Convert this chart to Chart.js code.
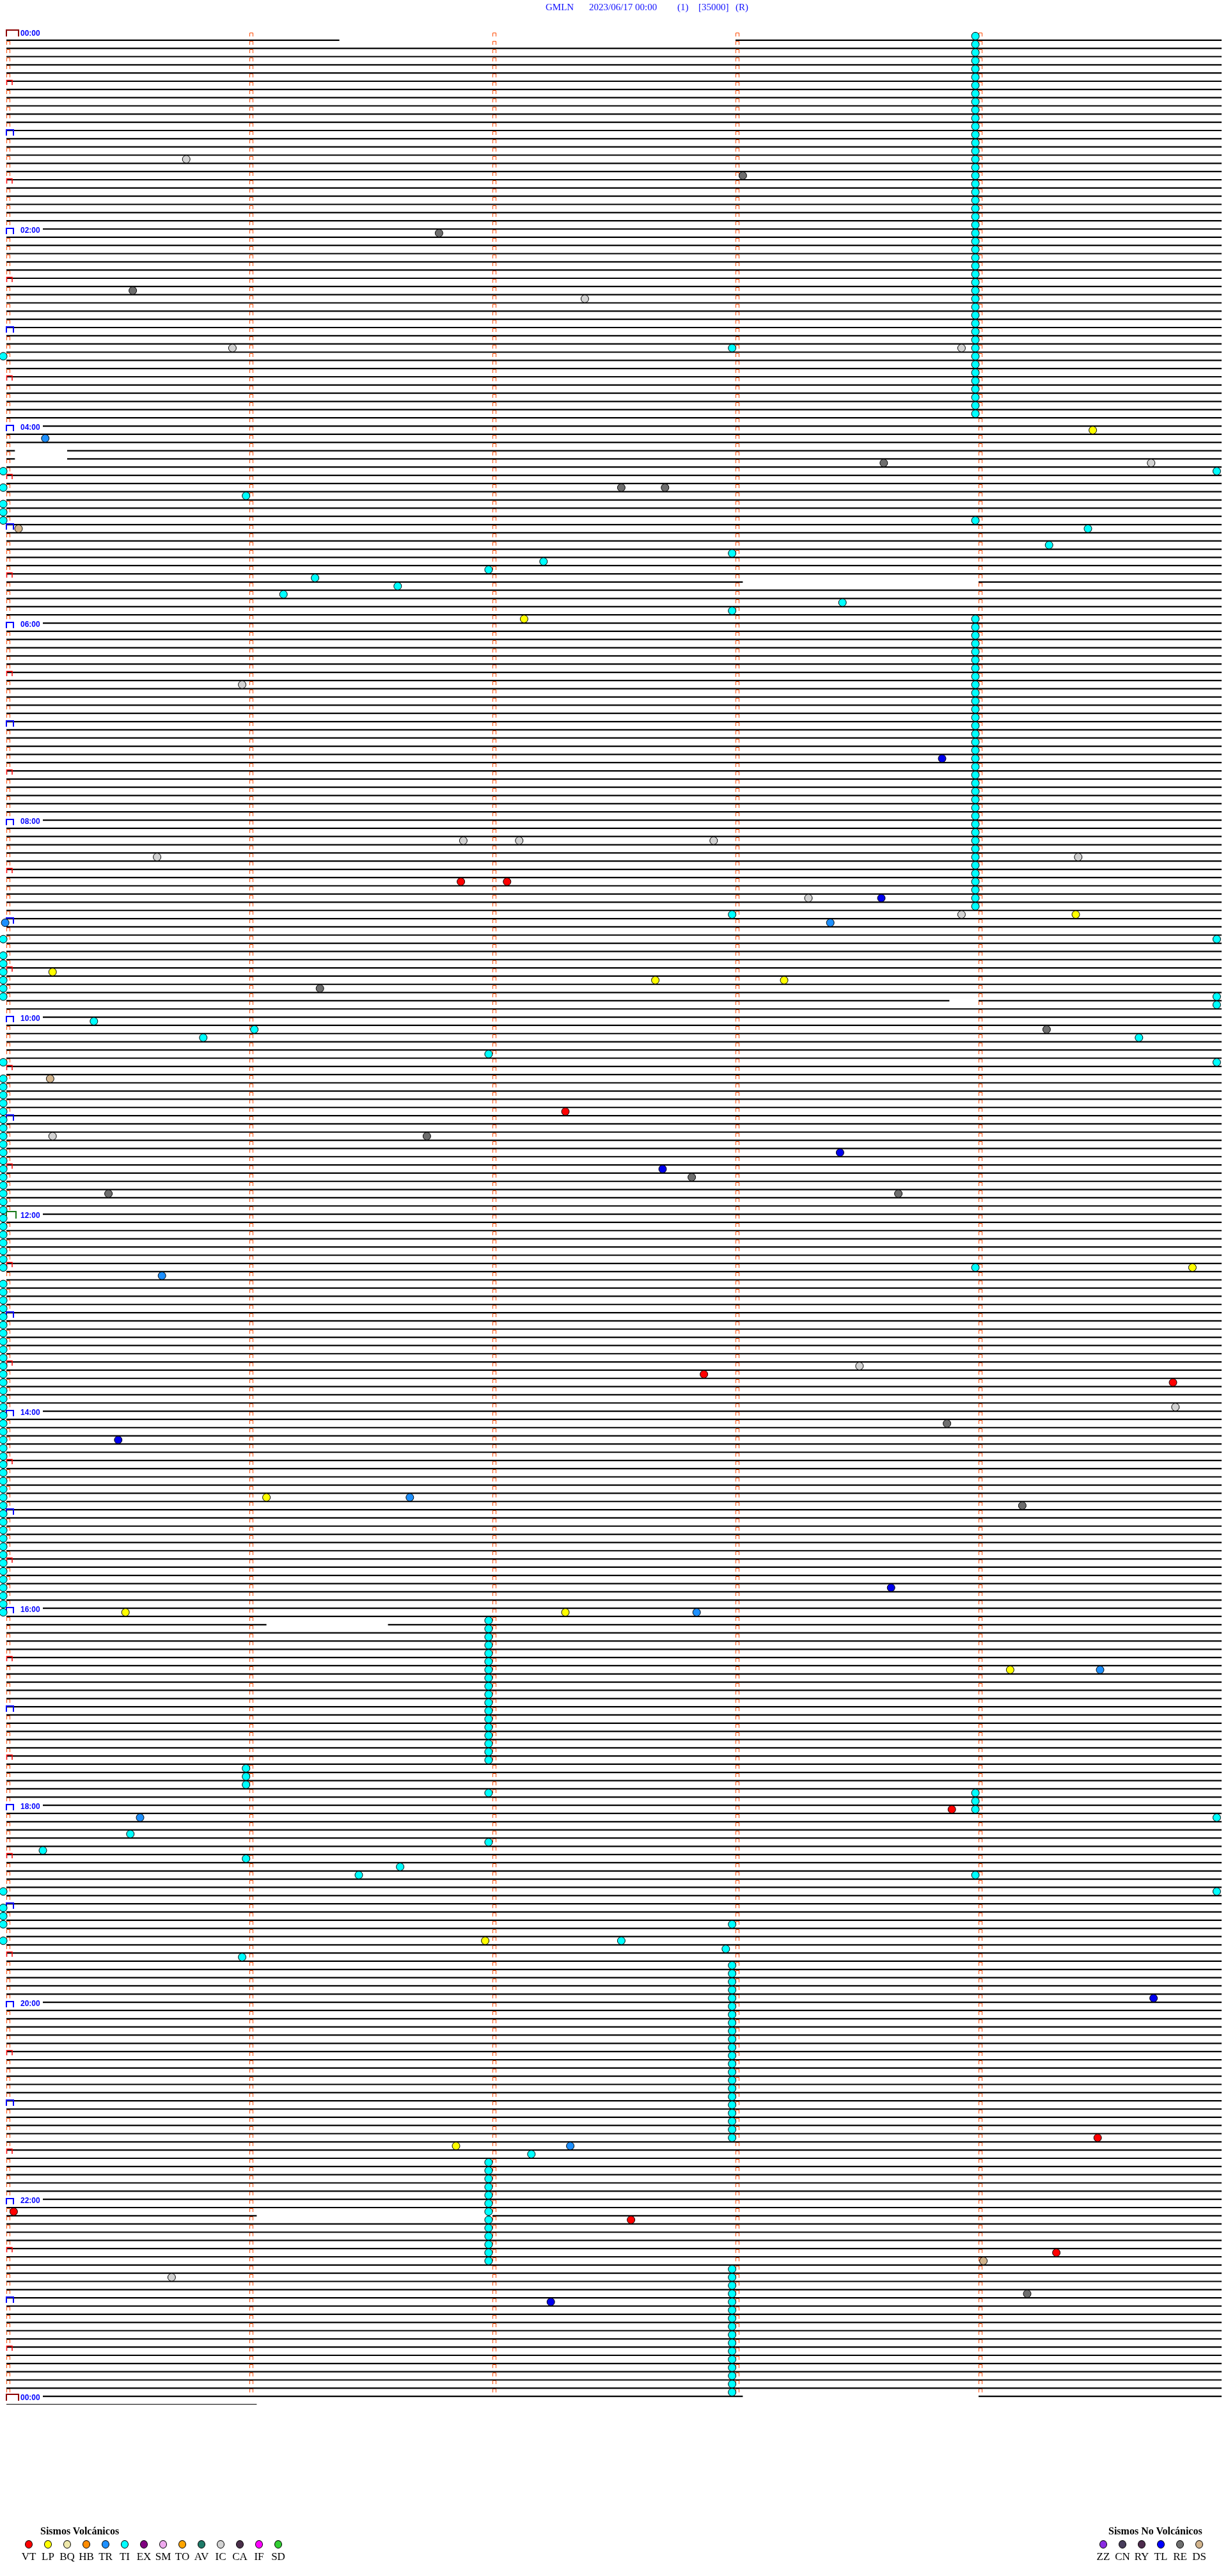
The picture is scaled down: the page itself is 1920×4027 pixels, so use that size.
<!DOCTYPE html>
<html lang="es">
<head>
<meta charset="UTF-8">
<title>GMLN 2023/06/17 00:00</title>
<script src="https://cdn.jsdelivr.net/npm/chart.js"></script>
<style>
    html, body { margin: 0; padding: 0; background: #fff; }
    body { width: 1920px; height: 4027px; position: relative; overflow: hidden; }
    #heli { position: absolute; left: 0; top: 0; }
    .ttl { position: absolute; top: 4px; font: 15px "Liberation Serif", "Times New Roman", serif; line-height: 1; color: #1010ff; white-space: pre; }
    .lg-title { position: absolute; top: 3949px; font: bold 16px "Liberation Serif", "Times New Roman", serif; line-height: 1; color: #000; white-space: pre; }
    .lg-dot { position: absolute; top: 3971px; width: 10px; height: 11px; border: 1px solid #000; border-radius: 50%; }
    .lg-lab { position: absolute; top: 3988px; width: 40px; text-align: center; font: 17px "Liberation Serif", "Times New Roman", serif; line-height: 1; color: #000; }
</style>
</head>
<body>
    <canvas id="heli" width="1920" height="4027"></canvas>

    <!-- Header -->
    <span class="ttl" style="left:853px">GMLN</span>
    <span class="ttl" style="left:921px">2023/06/17 00:00</span>
    <span class="ttl" style="left:1059px">(1)</span>
    <span class="ttl" style="left:1092px">[35000]</span>
    <span class="ttl" style="left:1150px">(R)</span>

    <!-- Legends -->
    <div class="lg-title" style="left:63px">Sismos Volcánicos</div>
    <div class="lg-title" style="left:1733px">Sismos No Volcánicos</div>
    <div id="legendBox"></div>

<script>
    // ---- axes: one row = 5 minutes, x in minutes inside the row ----
    const MINUTE_MARKS = [0, 1, 2, 3, 4];
    const LAST_ROW = 289;
    const HOUR_ROWS = [0, 24, 48, 72, 96, 120, 144, 168, 192, 216, 240, 264, 288];
    const HOUR_LABELS = ['00:00', '02:00', '04:00', '06:00', '08:00', '10:00', '12:00',
                         '14:00', '16:00', '18:00', '20:00', '22:00', '00:00'];

    // rows where the trace is missing: [row, fromMinute, toMinute]
    const traceGaps = [
        [1, 1.37, 3.0], [51, 0.035, 0.25], [52, 0.035, 0.25], [67, 3.03, 4.0], [118, 3.88, 4.0],
        [194, 1.07, 1.57], [266, 1.03, 2.0], [288, 3.03, 4.0], [289, 1.03, 5]
    ];

    // ---- legend ----
    const volcCodes = ['VT', 'LP', 'BQ', 'HB', 'TR', 'TI', 'EX', 'SM', 'TO', 'AV', 'IC', 'CA', 'IF', 'SD'];
    const volcColors = ['#ff0000', '#ffff00', '#eee8aa', '#ff8c00', '#1e90ff', '#00ffff', '#800080',
                        '#eeaaee', '#ffa500', '#1f7a68', '#d3d3d3', '#4a2f4a', '#ff00ff', '#32cd32'];
    const noVolcCodes = ['ZZ', 'CN', 'RY', 'TL', 'RE', 'DS'];
    const noVolcColors = ['#8a2be2', '#483d5b', '#4d2b4d', '#0000ff', '#6e6e6e', '#d2b48c'];

    // ---- events: TI (cyan) in columns, [row] at a fixed minute ----
    const tiColMin4 = [0, 1, 2, 3, 4, 5, 6, 7, 8, 9, 10, 11, 12, 13, 14, 15, 16, 17, 18, 19, 20, 21, 22, 23,
        24, 25, 26, 27, 28, 29, 30, 31, 32, 33, 34, 35, 36, 37, 38, 39, 40, 41, 42, 43, 44, 45, 46, 59,
        71, 72, 73, 74, 75, 76, 77, 78, 79, 80, 81, 82, 83, 84, 85, 86, 87, 88, 89, 90, 91, 92, 93, 94,
        95, 96, 97, 98, 99, 100, 101, 102, 103, 104, 105, 106, 150, 214, 215, 216, 224];
    const tiColMin2 = [65, 124, 193, 194, 195, 196, 197, 198, 199, 200, 201, 202, 203, 204, 205, 206, 207,
        208, 209, 210, 214, 220, 259, 260, 261, 262, 263, 264, 265, 266, 267, 268, 269, 270, 271];
    const tiColMin3 = [38, 63, 70, 107, 230, 235, 236, 237, 238, 239, 240, 241, 242, 243, 244, 245, 246,
        247, 248, 249, 250, 251, 252, 253, 254, 255, 256, 272, 273, 274, 275, 276, 277, 278, 279, 280,
        281, 282, 283, 284, 285, 286, 287];
    const tiColMin1 = [56, 211, 212, 213, 222];
    const tiLeftEdge = [39, 53, 55, 57, 58, 59, 110, 112, 113, 114, 115, 116, 117, 125,
        127, 128, 129, 130, 131, 132, 133, 134, 135, 136, 137, 138, 139, 140, 141, 142, 143, 144, 145,
        146, 147, 148, 149, 150, 152, 153, 154, 155, 156, 157, 158, 159, 160, 161, 162, 163, 164, 165,
        166, 167, 168, 169, 170, 171, 172, 173, 174, 175, 176, 177, 178, 179, 180, 181, 182, 183, 184,
        185, 186, 187, 188, 189, 190, 191, 192, 226, 228, 229, 230, 232];
    const tiRightEdge = [53, 110, 117, 118, 125, 217, 226];
    // loose events: [minute, row]
    const tiLoose = [[0.36, 120], [1.02, 121], [0.81, 122], [4.66, 122], [4.45, 60], [4.29, 62],
        [2.21, 64], [1.27, 66], [1.61, 67], [1.14, 68], [3.44, 69], [0.51, 219], [0.15, 221],
        [1.62, 223], [1.45, 224], [2.53, 232], [2.96, 233], [0.97, 234], [2.16, 258]];
    const reEvents = [[3.03, 17], [1.78, 24], [0.52, 31], [3.61, 52], [2.53, 55], [2.71, 55],
        [1.29, 116], [4.28, 121], [1.73, 134], [2.82, 139], [0.42, 141], [3.67, 141], [3.87, 169],
        [4.18, 179], [4.20, 275]];
    const icEvents = [[0.74, 15], [2.38, 32], [0.93, 38], [3.93, 38], [4.71, 52], [0.97, 79],
        [0.62, 100], [1.88, 98], [2.11, 98], [2.91, 98], [4.41, 100], [3.30, 105], [3.93, 107],
        [0.19, 134], [3.51, 162], [4.81, 167], [0.68, 273]];
    const tlEvents = [[3.85, 88], [3.60, 105], [3.43, 136], [2.70, 138], [0.46, 171], [3.64, 189],
        [4.72, 239], [2.24, 276]];
    const trEvents = [[0.16, 49], [3.39, 108], [-0.005, 108], [0.64, 151], [1.66, 178], [2.84, 192],
        [4.50, 199], [0.55, 217], [2.32, 257]];
    const vtEvents = [[1.87, 103], [2.06, 103], [2.30, 131], [2.87, 163], [4.80, 164], [3.89, 216],
        [4.49, 256], [0.03, 265], [2.57, 266], [4.32, 270]];
    const lpEvents = [[4.47, 48], [2.13, 71], [4.40, 107], [0.19, 114], [2.67, 115], [3.20, 115],
        [4.88, 150], [1.07, 178], [0.49, 192], [2.30, 192], [4.13, 199], [1.97, 232], [1.85, 257]];
    const dsEvents = [[0.05, 60], [0.18, 127], [4.02, 271]];

    // Build the trace lines (one flat line per row, broken at gaps)
    function traceData() {
        const pts = [];
        for (let r = 1; r <= LAST_ROW; r++) {
            let segs = [[0, 5]];
            traceGaps.filter(g => g[0] === r).forEach(g => {
                const out = [];
                segs.forEach(([a, b]) => {
                    if (g[1] > a) out.push([a, Math.min(b, g[1])]);
                    if (g[2] < b) out.push([Math.max(a, g[2]), b]);
                });
                segs = out;
            });
            segs.forEach(([a, b]) => {
                pts.push({ x: a, y: r }, { x: b, y: r }, { x: b, y: null });
            });
        }
        return pts;
    }

    // events sit just above the trace line of their row
    const colPts = (rows, m) => rows.map(r => ({ x: m, y: r + 0.5 }));
    const evPts = list => list.map(([m, r]) => ({ x: m, y: r + 0.5 }));

    function eventSet(label, data, color) {
        return {
            label, data, type: 'scatter', order: 1, clip: false,
            pointStyle: 'circle', pointRadius: 6, pointHoverRadius: 6,
            backgroundColor: color, borderColor: '#000', borderWidth: 1
        };
    }

    const TI = volcColors[5], TR = volcColors[4], VT = volcColors[0], LP = volcColors[1], IC = volcColors[10];
    const TL = '#0000ee', RE = noVolcColors[4], DS = noVolcColors[5];

    const helicorderMarks = {
        id: 'helicorderMarks',
        beforeDatasetsDraw(chart) {
            const { ctx, scales: { x, y } } = chart;
            ctx.save();
            ctx.lineWidth = 1;
            ctx.strokeStyle = '#ff4a00';
            ctx.beginPath();
            for (let r = 0; r < LAST_ROW - 1; r++) {
                const py = Math.round(y.getPixelForValue(r));
                MINUTE_MARKS.forEach(m => {
                    if (m === 0 && r % 6 === 0) return;
                    const px = Math.round(x.getPixelForValue(m));
                    ctx.moveTo(px + 0.5, py + 7);
                    ctx.lineTo(px + 0.5, py + 1.5);
                    ctx.lineTo(px + 5.5, py + 1.5);
                    ctx.lineTo(px + 5.5, py + 7);
                });
            }
            ctx.stroke();
            ctx.restore();
        },
        afterDatasetDraw(chart, args) {
            if (args.index !== 0) return;
            const { ctx, scales: { x, y } } = chart;
            const x0 = Math.round(x.getPixelForValue(0));
            ctx.save();
            // hour labels
            HOUR_ROWS.forEach((r, i) => {
                const py = y.getPixelForValue(r);
                ctx.fillStyle = '#fff';
                ctx.fillRect(x0 - 1, py - 3, 58, 6);
                ctx.fillStyle = '#0000ff';
                ctx.font = 'bold 12px "Liberation Sans", Arial, sans-serif';
                ctx.textBaseline = 'alphabetic';
                ctx.fillText(HOUR_LABELS[i], x0 + 22, py + 6);
            });
            // hour / half hour brackets at the start of the row
            for (let r = 0; r < LAST_ROW; r += 6) {
                const py = Math.round(y.getPixelForValue(r));
                ctx.beginPath();
                if (r === 0 || r === 288) {
                    ctx.strokeStyle = '#8b0000'; ctx.lineWidth = 2;
                    ctx.moveTo(x0, py + 7); ctx.lineTo(x0, py - 3); ctx.lineTo(x0 + 19, py - 3); ctx.lineTo(x0 + 19, py + 7);
                } else if (r === 144) {
                    ctx.strokeStyle = '#1a7a1a'; ctx.lineWidth = 2;
                    ctx.moveTo(x0, py + 3); ctx.lineTo(x0, py - 4); ctx.lineTo(x0 + 15, py - 4); ctx.lineTo(x0 + 15, py + 7);
                } else if (r % 12 === 0) {
                    ctx.strokeStyle = '#0000ff'; ctx.lineWidth = 2;
                    ctx.moveTo(x0, py + 8); ctx.lineTo(x0, py - 1); ctx.lineTo(x0 + 11, py - 1); ctx.lineTo(x0 + 11, py + 8);
                } else {
                    ctx.strokeStyle = '#ff0000'; ctx.lineWidth = 1.5;
                    ctx.moveTo(x0 + 0.5, py + 6); ctx.lineTo(x0 + 0.5, py - 1.5); ctx.lineTo(x0 + 9, py - 1.5); ctx.lineTo(x0 + 9, py + 6);
                }
                ctx.stroke();
            }
            ctx.restore();
        }
    };

    new Chart(document.getElementById('heli'), {
        type: 'scatter',
        data: {
            datasets: [
                {
                    label: 'traza', data: traceData(), type: 'line', order: 10,
                    borderColor: '#000', borderWidth: 2.2, pointRadius: 0, spanGaps: false, tension: 0
                },
                eventSet('TI', [].concat(colPts(tiColMin4, 3.987), colPts(tiColMin2, 1.984),
                    colPts(tiColMin3, 2.986), colPts(tiColMin1, 0.986), colPts(tiLeftEdge, -0.013),
                    colPts(tiRightEdge, 4.98), evPts(tiLoose)), TI),
                eventSet('RE', evPts(reEvents), RE),
                eventSet('IC', evPts(icEvents), IC),
                eventSet('TL', evPts(tlEvents), TL),
                eventSet('TR', evPts(trEvents), TR),
                eventSet('VT', evPts(vtEvents), VT),
                eventSet('LP', evPts(lpEvents), LP),
                eventSet('DS', evPts(dsEvents), DS)
            ]
        },
        options: {
            responsive: false,
            devicePixelRatio: 1,
            animation: false,
            layout: { padding: { left: 10, right: 10, top: 50, bottom: 268 } },
            scales: {
                x: { type: 'linear', min: 0, max: 5, display: false },
                y: { type: 'linear', min: 0, max: LAST_ROW, reverse: true, display: false }
            },
            plugins: { legend: { display: false }, tooltip: { enabled: false } },
            events: []
        },
        plugins: [helicorderMarks]
    });

    // HTML legend rows
    function legendRow(codes, colors, left) {
        return codes.map((c, i) => `
            <div class="lg-dot" style="left:${left + 30 * i - 6}px;background:${colors[i]}"></div>
            <div class="lg-lab" style="left:${left + 30 * i - 20}px">${c}</div>`).join('');
    }
    document.getElementById('legendBox').innerHTML =
        legendRow(volcCodes, volcColors, 45) + legendRow(noVolcCodes, noVolcColors, 1725);
</script>
</body>
</html>
